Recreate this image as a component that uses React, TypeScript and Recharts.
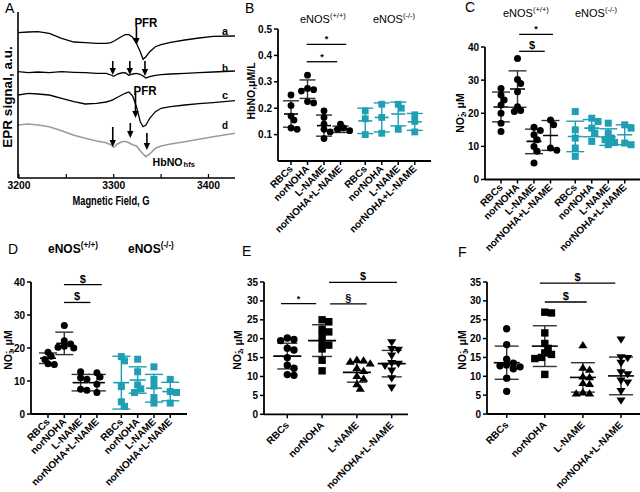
import React from "react";
import {
  ErrorBar,
  Label,
  Line,
  LineChart,
  ReferenceDot,
  ReferenceLine,
  Scatter,
  ScatterChart,
  XAxis,
  YAxis,
} from "recharts";

const FONT = '"Liberation Sans", Arial, Helvetica, sans-serif';
const INK = "#000";
const TEAL = "#1f9eb4";
const GREY = "#9b9b9b";

// ---------- A: EPR spectra (a.u.) ----------
const eprField = [3199, 3210, 3220, 3232, 3245, 3258, 3270, 3282, 3292, 3297, 3300, 3304, 3308, 3312, 3316, 3320, 3324, 3328, 3331, 3334, 3338, 3344, 3350, 3360, 3375, 3390, 3405, 3428];
const eprA = [145.3, 146, 146.3, 144.7, 139.7, 136, 135.3, 134.7, 134.7, 135.3, 136.7, 139, 141.3, 143.3, 143.3, 140.7, 134.7, 126.3, 118.7, 121.3, 126.3, 131.3, 133.3, 135.7, 138, 140, 141.7, 142];
const eprB = [106.3, 105.3, 106, 105.3, 106.3, 105.7, 105.3, 104.7, 104.7, 103, 101.7, 104, 105, 105.3, 102.7, 104, 104.7, 103.7, 102, 100, 101.3, 102.7, 103.3, 104, 104.7, 105.3, 106, 107];
const eprC = [83, 84.7, 84, 83, 79.7, 76.3, 74, 74.7, 76, 77.3, 78.7, 80.7, 82.7, 84.7, 86, 82, 71.3, 56.3, 51.3, 53, 59.7, 66.3, 69.7, 71.3, 73, 74.3, 75.3, 77.3];
const eprD = [53, 54, 53, 51.3, 47.3, 42.7, 39.7, 37, 35.3, 33.3, 30.7, 34, 36, 36.7, 35.3, 33.3, 32, 27.3, 24, 21.3, 24, 29.7, 32, 34, 36.3, 38.7, 41.3, 44.7];
const eprTicks = [3200, 3250, 3300, 3350, 3400];
// arrows: field, tail, tip
const eprArrows = [
  [3324, 151, 133],
  [3299, 117, 103],
  [3317, 117, 103],
  [3333, 117, 102],
  [3323, 85, 60],
  [3299, 51, 31],
  [3317.5, 55, 40],
  [3335, 45, 28],
];
const eprTraceNames = ["a", "b", "c", "d"];
const eprTraceNameY = [147, 110, 83, 53];

const eprData = eprField.map((f, i) => ({ f, a: eprA[i], b: eprB[i], c: eprC[i], d: eprD[i] }));

// ---------- B-F: dot plots ----------
const catNames = ["RBCs", "norNOHA", "L-NAME", "norNOHA+L-NAME"];
const wtPos = [0, 1, 2, 3];
const koPos = [4.5, 5.5, 6.5, 7.5];

// B: HbNO, µM/L
const hbnoWt = [
  [0.25, 0.21, 0.17, 0.155, 0.125, 0.12],
  [0.325, 0.275, 0.27, 0.265, 0.225, 0.22],
  [0.19, 0.165, 0.14, 0.12, 0.11, 0.085],
  [0.14, 0.125, 0.12, 0.115],
];
const hbnoWtMean = [0.178, 0.272, 0.134, 0.12];
const hbnoWtSd = [0.05, 0.035, 0.04, 0.012];
const hbnoKo = [
  [0.19, 0.16, 0.1],
  [0.215, 0.165, 0.105],
  [0.215, 0.2, 0.12],
  [0.175, 0.15, 0.11],
];
const hbnoKoMean = [0.152, 0.165, 0.178, 0.148];
const hbnoKoSd = [0.048, 0.055, 0.045, 0.032];

// C: NO2-, µM (eNOS)
const no2Wt = [
  [27.5, 25.5, 24, 22.5, 20, 17, 14.5],
  [36.5, 30.2, 29, 26.5, 22, 20.8, 20.5],
  [15.8, 14.8, 13.5, 12, 10, 8.5, 5],
  [18, 16.5, 9.5, 8.8],
];
const no2WtMean = [21.9, 27.3, 11.5, 13.3];
const no2WtSd = [4.5, 5.5, 3.7, 4.5];
const no2Ko = [
  [20.5, 15, 12.5, 9.5, 7],
  [18.5, 17.5, 15.5, 14, 11.5],
  [17, 14, 12.5, 12, 11.2, 10.5],
  [16.5, 15.5, 11, 10.5],
];
const no2KoMean = [13, 15.5, 12.8, 13.5];
const no2KoSd = [4.6, 2.6, 2.5, 3];

// D: NO3-, µM (eNOS)
const no3Wt = [
  [18.7, 17.5, 16.5, 15.2, 15],
  [26.8, 22.2, 21.2, 20.5, 20, 20.2],
  [12.8, 11, 10.5, 7.5, 7.2],
  [12.5, 11.2, 9, 6.5],
];
const no3WtMean = [16.9, 21.4, 9.5, 9.5];
const no3WtSd = [1.6, 3.4, 2.5, 2.5];
const no3Ko = [
  [17.4, 16.1, 8.3, 3.7, 2.3],
  [16.6, 12.8, 8.8, 7.6, 6.5],
  [14.3, 10.5, 8.5, 5, 3.3],
  [10.5, 6.8, 6.5, 3.3],
];
const no3KoMean = [9.5, 10.3, 7.8, 6.8];
const no3KoSd = [8, 4, 4.2, 2.8];

// E: NO2-, µM (RBCs, n=10)
const no2Rbc = [
  [20.2, 19.8, 19.5, 17.5, 17, 15, 13, 12.2, 10.5, 10.3],
  [25, 24.5, 22.5, 21.8, 20.8, 19, 18.3, 17.3, 14.3, 11.5],
  [14.5, 14.3, 14, 13.5, 12.3, 11.5, 10.2, 9.5, 8, 6.8],
  [19, 17.2, 17, 15.5, 13.5, 13.3, 12.8, 11.5, 9.5, 7],
];
const no2RbcMean = [15.4, 19.5, 11.1, 13.4];
const no2RbcSd = [3.4, 4.2, 2.6, 3.5];

// F: NO3-, µM (RBCs, n=10)
const no3Rbc = [
  [22.6, 18.4, 14.5, 13.5, 13, 12.8, 12.5, 12, 9.5, 6],
  [27, 26.8, 21.5, 18.7, 17.4, 16.2, 15.8, 15, 14.7, 10.5],
  [18.3, 12.3, 11.8, 10, 9.8, 8.3, 8, 5.8, 5.5, 5.5],
  [19.7, 15, 14.8, 13.5, 11, 10.5, 8.8, 8.3, 6, 3.5],
];
const no3RbcMean = [13.6, 18, 9.7, 10.1];
const no3RbcSd = [4.4, 5.4, 3.9, 5];

// significance bars: from group, to group, level, mark
const sigB = [
  { from: 0.95, to: 3.35, y: 0.442, mark: "*" },
  { from: 0.95, to: 2.8, y: 0.376, mark: "*" },
];
const sigC = [
  { from: 1.1, to: 3.15, y: 43.8, mark: "*" },
  { from: 1.1, to: 2.65, y: 38.7, mark: "$" },
];
const sigD = [
  { from: 0.98, to: 3.3, y: 39.2, mark: "$" },
  { from: 0.98, to: 2.6, y: 33.8, mark: "$" },
];
const sigE = [
  { from: -0.18, to: 0.83, y: 29.3, mark: "*" },
  { from: 1.23, to: 2.28, y: 29.2, mark: "§" },
  { from: 1.2, to: 3.15, y: 34.9, mark: "$" },
];
const sigF = [
  { from: 0.87, to: 2.85, y: 34.7, mark: "$" },
  { from: 1.0, to: 2.1, y: 29.7, mark: "$" },
];

type Shape = "circle" | "square" | "up" | "down";
type Group = { name: string; pos: number; values: number[]; mean: number; sd: number; color: string; shape: Shape };
type Sig = { from: number; to: number; y: number; mark: string };
type PanelCfg = {
  x0: number; x1: number; y0: number; y1: number;
  p0: number; sp: number;
  yMax: number; yTicks: number[]; yDigits: number;
  title: React.ReactNode; titleX: number; titleY: number;
  groups: Group[]; sig: Sig[];
  meanW: number; capW: number; size: number; tickGap: number;
};

function groupsOf(vals: number[][], means: number[], sds: number[], pos: number[], color: string, shapes: Shape[]): Group[] {
  return vals.map((v, i) => ({ name: catNames[i], pos: pos[i], values: v, mean: means[i], sd: sds[i], color, shape: shapes[i] }));
}

const allCircle: Shape[] = ["circle", "circle", "circle", "circle"];
const allSquare: Shape[] = ["square", "square", "square", "square"];
const mixed: Shape[] = ["circle", "square", "up", "down"];

// spread points sideways so they don't pile up (loose beeswarm, in pixels)
function swarm(values: number[], pxPerVal: number, sp: number, d: number) {
  const order = values.map((_, i) => i).sort((a, b) => values[b] - values[a]);
  const placed: { x: number; y: number }[] = [];
  const off = values.map(() => 0);
  for (const i of order) {
    const y = values[i] * pxPerVal;
    for (let k = 0; k < 40; k++) {
      const x = k === 0 ? 0 : (k % 2 ? 1 : -1) * Math.ceil(k / 2) * d * 0.45;
      if (placed.every((p) => Math.hypot(p.x - x, p.y - y) >= d * 0.72)) {
        placed.push({ x, y });
        off[i] = x / sp;
        break;
      }
    }
  }
  return off;
}

function marker(shape: Shape, s: number, color: string) {
  return (p: any) => {
    const { cx, cy } = p;
    if (shape === "circle") return <circle cx={cx} cy={cy} r={s / 2} fill={color} />;
    if (shape === "square") return <rect x={cx - s / 2} y={cy - s / 2} width={s} height={s} fill={color} />;
    const w = s * 0.62;
    const h = s * 0.55;
    if (shape === "up") return <polygon points={`${cx},${cy - h} ${cx - w},${cy + h * 0.8} ${cx + w},${cy + h * 0.8}`} fill={color} />;
    return <polygon points={`${cx},${cy + h} ${cx - w},${cy - h * 0.8} ${cx + w},${cy - h * 0.8}`} fill={color} />;
  };
}

const CatTick = (props: any) => {
  const { x, y, payload, groups } = props;
  const g = (groups as Group[]).find((gg) => Math.abs(gg.pos - payload.value) < 1e-6);
  return (
    <text
      x={x}
      y={y}
      transform={`rotate(-45 ${x} ${y})`}
      textAnchor="end"
      dominantBaseline="central"
      fontSize={10}
      fontWeight="bold"
      fontFamily={FONT}
      fill={INK}
    >
      {g ? g.name : ""}
    </text>
  );
};

function DotPanel({ cfg }: { cfg: PanelCfg }) {
  const YW = 40;
  const MT = 40;
  const MR = 10;
  const XH = 90;
  const width = cfg.x1 - cfg.x0 + YW + MR;
  const height = cfg.y1 - cfg.y0 + MT + XH;
  const pxPerVal = (cfg.y1 - cfg.y0) / cfg.yMax;
  const xDomain = [(cfg.x0 - cfg.p0) / cfg.sp, (cfg.x1 - cfg.p0) / cfg.sp];
  const positions = cfg.groups.map((g) => g.pos);
  const tx = cfg.titleX - (cfg.x0 - YW);
  const ty = cfg.titleY - (cfg.y0 - MT);

  return (
    <div style={{ position: "absolute", left: cfg.x0 - YW, top: cfg.y0 - MT }}>
      <ScatterChart width={width} height={height} margin={{ top: MT, right: MR, bottom: 0, left: 0 }}>
        <XAxis
          type="number"
          dataKey="x"
          domain={xDomain}
          allowDataOverflow
          ticks={positions}
          interval={0}
          height={XH}
          tickSize={4}
          tickMargin={cfg.tickGap}
          stroke={INK}
          strokeWidth={1.8}
          tickLine={{ stroke: INK, strokeWidth: 1.5 }}
          tick={<CatTick groups={cfg.groups} />}
        />
        <YAxis
          type="number"
          dataKey="y"
          domain={[0, cfg.yMax]}
          allowDataOverflow
          ticks={cfg.yTicks}
          interval={0}
          width={YW}
          tickSize={4}
          tickMargin={2}
          stroke={INK}
          strokeWidth={1.8}
          tickLine={{ stroke: INK, strokeWidth: 1.5 }}
          tick={{ fontSize: 10, fontWeight: "bold", fill: INK, fontFamily: FONT }}
          tickFormatter={(v: number) => v.toFixed(cfg.yDigits)}
        >
          <Label
            content={() => (
              <text
                x={tx}
                y={ty}
                transform={`rotate(-90 ${tx} ${ty})`}
                textAnchor="middle"
                dominantBaseline="central"
                fontSize={10.5}
                fontWeight="bold"
                fontFamily={FONT}
                fill={INK}
              >
                {cfg.title}
              </text>
            )}
          />
        </YAxis>
        {cfg.groups.map((g, i) => {
          const off = swarm(g.values, pxPerVal, cfg.sp, cfg.size);
          return (
            <Scatter
              key={`p${i}`}
              data={g.values.map((v, j) => ({ x: g.pos + off[j], y: v }))}
              fill={g.color}
              shape={marker(g.shape, cfg.size, g.color)}
              isAnimationActive={false}
            />
          );
        })}
        {cfg.groups.map((g, i) => (
          <Scatter
            key={`m${i}`}
            data={[{ x: g.pos, y: g.mean, sd: g.sd }]}
            fill={g.color}
            shape={(p: any) => (
              <line x1={p.cx - cfg.meanW / 2} x2={p.cx + cfg.meanW / 2} y1={p.cy} y2={p.cy} stroke={g.color} strokeWidth={1.6} />
            )}
            isAnimationActive={false}
          >
            <ErrorBar dataKey="sd" direction="y" width={cfg.capW} stroke={g.color === TEAL ? TEAL : "#333"} strokeWidth={1.4} />
          </Scatter>
        ))}
        {cfg.sig.map((s, i) => (
          <ReferenceLine
            key={`s${i}`}
            segment={[
              { x: s.from, y: s.y },
              { x: s.to, y: s.y },
            ]}
            ifOverflow="visible"
            stroke={INK}
            strokeWidth={1.3}
            label={{
              value: s.mark,
              position: "top",
              offset: 2,
              fill: INK,
              fontSize: s.mark === "*" ? 9 : 11,
              fontWeight: "bold",
              fontFamily: FONT,
            }}
          />
        ))}
      </ScatterChart>
    </div>
  );
}

const no2Title = (
  <>
    NO
    <tspan fontSize={7} dy={2.5}>2</tspan>
    <tspan fontSize={7} dx={-3.5} dy={-6}>-</tspan>
    <tspan dy={3.5}>, μM</tspan>
  </>
);
const no3Title = (
  <>
    NO
    <tspan fontSize={7} dy={2.5}>3</tspan>
    <tspan fontSize={7} dx={-3.5} dy={-6}>-</tspan>
    <tspan dy={3.5}>, μM</tspan>
  </>
);

const panels: PanelCfg[] = [
  {
    x0: 278, x1: 431, y0: 29, y1: 161, p0: 291, sp: 16.5,
    yMax: 0.5, yTicks: [0.1, 0.2, 0.3, 0.4, 0.5], yDigits: 1,
    title: "HbNO,μM/L", titleX: 251, titleY: 91,
    groups: [
      ...groupsOf(hbnoWt, hbnoWtMean, hbnoWtSd, wtPos, INK, allCircle),
      ...groupsOf(hbnoKo, hbnoKoMean, hbnoKoSd, koPos, TEAL, allSquare),
    ],
    sig: sigB, meanW: 14, capW: 8, size: 6.8, tickGap: 2,
  },
  {
    x0: 485, x1: 640, y0: 47, y1: 179.5, p0: 501, sp: 16.5,
    yMax: 40, yTicks: [0, 10, 20, 30, 40], yDigits: 0,
    title: no2Title, titleX: 460, titleY: 113,
    groups: [
      ...groupsOf(no2Wt, no2WtMean, no2WtSd, wtPos, INK, allCircle),
      ...groupsOf(no2Ko, no2KoMean, no2KoSd, koPos, TEAL, allSquare),
    ],
    sig: sigC, meanW: 15, capW: 9, size: 7, tickGap: 2,
  },
  {
    x0: 31, x1: 187, y0: 282, y1: 414, p0: 48, sp: 16.3,
    yMax: 40, yTicks: [0, 10, 20, 30, 40], yDigits: 0,
    title: no3Title, titleX: 8, titleY: 350,
    groups: [
      ...groupsOf(no3Wt, no3WtMean, no3WtSd, wtPos, INK, allCircle),
      ...groupsOf(no3Ko, no3KoMean, no3KoSd, koPos, TEAL, allSquare),
    ],
    sig: sigD, meanW: 16, capW: 9, size: 7, tickGap: 2,
  },
  {
    x0: 264, x1: 408, y0: 282, y1: 414.3, p0: 287.3, sp: 34.8,
    yMax: 35, yTicks: [0, 5, 10, 15, 20, 25, 30, 35], yDigits: 0,
    title: no2Title, titleX: 238, titleY: 350,
    groups: groupsOf(no2Rbc, no2RbcMean, no2RbcSd, wtPos, INK, mixed),
    sig: sigE, meanW: 28, capW: 10, size: 7.4, tickGap: 5,
  },
  {
    x0: 487, x1: 640, y0: 282, y1: 414, p0: 506.7, sp: 38.1,
    yMax: 35, yTicks: [0, 5, 10, 15, 20, 25, 30, 35], yDigits: 0,
    title: no3Title, titleX: 462, titleY: 350,
    groups: groupsOf(no3Rbc, no3RbcMean, no3RbcSd, wtPos, INK, mixed),
    sig: sigF, meanW: 26, capW: 12, size: 7.4, tickGap: 5,
  },
];

// panel A texts are horizontally squeezed in the source, so fit them to a length
const EprTick = (props: any) => {
  const { x, y, payload } = props;
  if (payload.value % 100 !== 0) return <g />;
  return (
    <text x={x} y={y} dy="0.71em" textAnchor="middle" fontSize={11.5} fontWeight="bold" fontFamily={FONT} fill={INK} textLength={23} lengthAdjust="spacingAndGlyphs">
      {payload.value}
    </text>
  );
};

const squeezed = (label: string, len: number, size: number) => (p: any) => (
  <text x={p.cx} y={p.cy} textAnchor="middle" dominantBaseline="central" fontSize={size} fontWeight="bold" fontFamily={FONT} fill={INK} textLength={len} lengthAdjust="spacingAndGlyphs">
    {label}
  </text>
);

function EprPanel() {
  const axisProps = { stroke: INK, strokeWidth: 1.6 };
  return (
    <div style={{ position: "absolute", left: 0, top: 0 }}>
      <LineChart width={240} height={215} data={eprData} margin={{ top: 12, right: 5, bottom: 0, left: 0 }}>
        <XAxis
          dataKey="f"
          type="number"
          domain={[3199, 3428]}
          allowDataOverflow
          ticks={eprTicks}
          interval={0}
          height={37}
          tickSize={-4}
          tickMargin={7}
          {...axisProps}
          tickLine={{ stroke: INK, strokeWidth: 1.2 }}
          tick={<EprTick />}
        >
          <Label
            content={() => (
              <text x={111} y={205} textAnchor="middle" fontSize={12} fontWeight="bold" fontFamily={FONT} fill={INK} textLength={77} lengthAdjust="spacingAndGlyphs">
                Magnetic Field, G
              </text>
            )}
          />
        </XAxis>
        <XAxis xAxisId="top" orientation="top" dataKey="f" type="number" domain={[3199, 3428]} allowDataOverflow height={0} tick={false} tickLine={false} {...axisProps} />
        <YAxis type="number" domain={[0, 166]} allowDataOverflow width={18} tick={false} tickLine={false} {...axisProps}>
          <Label
            content={() => (
              <text x={7} y={97} transform="rotate(-90 7 97)" textAnchor="middle" dominantBaseline="central" fontSize={13.5} fontWeight="bold" fontFamily={FONT} fill={INK}>
                EPR signal, a.u.
              </text>
            )}
          />
        </YAxis>
        <YAxis yAxisId="right" orientation="right" type="number" domain={[0, 166]} allowDataOverflow width={0} tick={false} tickLine={false} {...axisProps} />
        <Line dataKey="a" type="linear" stroke={INK} strokeWidth={1.3} dot={false} isAnimationActive={false} />
        <Line dataKey="b" type="linear" stroke={INK} strokeWidth={1.3} dot={false} isAnimationActive={false} />
        <Line dataKey="c" type="linear" stroke={INK} strokeWidth={1.3} dot={false} isAnimationActive={false} />
        <Line dataKey="d" type="linear" stroke={GREY} strokeWidth={1.6} dot={false} isAnimationActive={false} />
        {eprArrows.map(([f, tail, tip], i) => (
          <ReferenceLine
            key={`ar${i}`}
            segment={[
              { x: f, y: tail },
              { x: f, y: tip },
            ]}
            shape={(p: any) => (
              <g>
                <line x1={p.x1} y1={p.y1} x2={p.x2} y2={p.y2 - 5} stroke={INK} strokeWidth={1.6} />
                <polygon points={`${p.x2 - 3.2},${p.y2 - 7} ${p.x2 + 3.2},${p.y2 - 7} ${p.x2},${p.y2}`} fill={INK} />
              </g>
            )}
          />
        ))}
        <ReferenceDot x={3334} y={155.5} r={0} shape={squeezed("PFR", 23, 13.5)} />
        <ReferenceDot x={3333} y={88} r={0} shape={squeezed("PFR", 23, 13.5)} />
        <ReferenceDot x={3341} y={16.5} r={0} shape={(p: any) => (
          <g>
            <text x={p.cx} y={p.cy} dominantBaseline="central" fontSize={10.6} fontWeight="bold" fontFamily={FONT} fill={INK}>
              HbNO
            </text>
            <text x={p.cx + 31} y={p.cy + 3} dominantBaseline="central" fontSize={7.5} fontWeight="bold" fontFamily={FONT} fill={INK}>
              hfs
            </text>
          </g>
        )} />
        {eprTraceNames.map((n, i) => (
          <ReferenceDot key={n} x={3417.5} y={eprTraceNameY[i]} r={0} shape={squeezed(n, 6, 11.5)} />
        ))}
      </LineChart>
    </div>
  );
}

const letters = [
  { t: "A", left: 5, top: 1 },
  { t: "B", left: 245, top: 1 },
  { t: "C", left: 465, top: 0 },
  { t: "D", left: 8, top: 242 },
  { t: "E", left: 242, top: 244 },
  { t: "F", left: 458, top: 245 },
];

function Header({ left, top, size, bold, sup }: { left: number; top: number; size: number; bold?: boolean; sup: string }) {
  return (
    <span
      style={{
        position: "absolute",
        left,
        top,
        fontSize: size,
        lineHeight: 1,
        fontWeight: bold ? "bold" : "normal",
        whiteSpace: "nowrap",
      }}
    >
      eNOS
      <span style={{ fontSize: size * 0.68, position: "relative", top: -size * 0.38 }}>{sup}</span>
    </span>
  );
}

export default function App() {
  return (
    <div
      style={{
        position: "absolute",
        left: 0,
        top: 0,
        width: 640,
        height: 492,
        background: "#fff",
        fontFamily: FONT,
        color: INK,
        overflow: "hidden",
      }}
    >
      {letters.map((l) => (
        <span key={l.t} style={{ position: "absolute", left: l.left, top: l.top, fontSize: 14, lineHeight: 1 }}>
          {l.t}
        </span>
      ))}
      <Header left={300} top={13.5} size={11} sup="(+/+)" />
      <Header left={373} top={13.5} size={11} sup="(-/-)" />
      <Header left={503} top={7.5} size={11} sup="(+/+)" />
      <Header left={575} top={7.5} size={11} sup="(-/-)" />
      <Header left={48} top={243} size={12} bold sup="(+/+)" />
      <Header left={128} top={243} size={12} bold sup="(-/-)" />
      <EprPanel />
      {panels.map((p, i) => (
        <DotPanel key={i} cfg={p} />
      ))}
    </div>
  );
}
